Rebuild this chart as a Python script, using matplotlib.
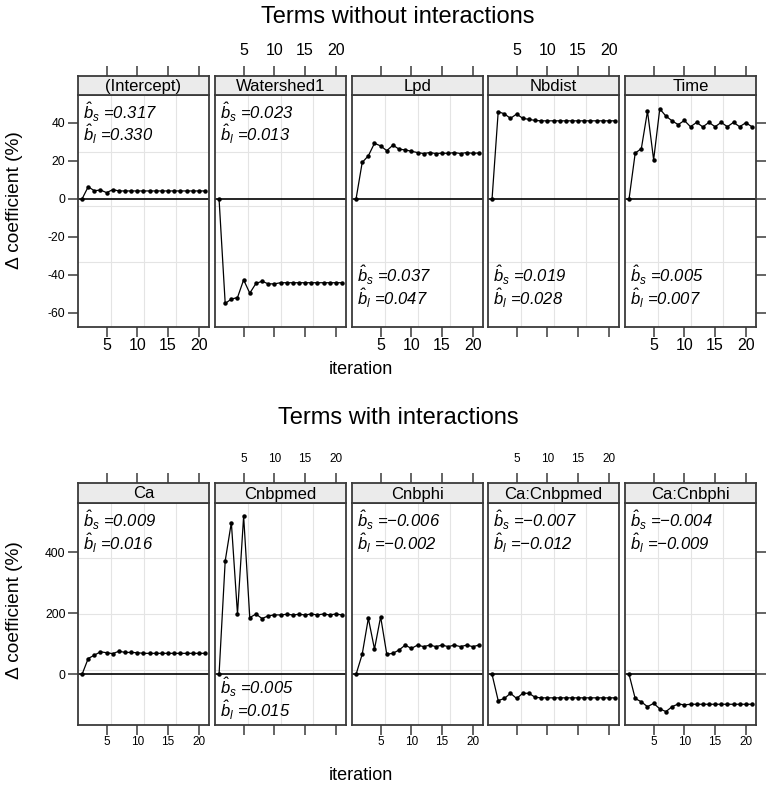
import numpy as np
import matplotlib.pyplot as plt

plt.rcParams['font.family'] = ['Liberation Sans', 'DejaVu Sans']
plt.rcParams['mathtext.fontset'] = 'custom'
plt.rcParams['mathtext.it'] = 'Liberation Sans:italic'
plt.rcParams['mathtext.rm'] = 'Liberation Sans:italic'
plt.rcParams['axes.unicode_minus'] = False

iteration = np.arange(1, 22)

# Terms without interactions
top_names = ["(Intercept)", "Watershed1", "Lpd", "Nbdist", "Time"]
intercept = [0, 6.4, 4.3, 4.7, 3.3, 4.9, 4.2, 4.2, 4.2, 4.2, 4.2, 4.2, 4.2, 4.2, 4.2, 4.2, 4.2, 4.2, 4.2, 4.2, 4.2]
watershed1 = [0, -55.0, -52.7, -51.9, -42.6, -49.6, -44.5, -43.3, -44.7, -44.7, -44.1, -44.1, -44.1, -44.1,
              -44.1, -44.1, -44.1, -44.1, -44.1, -44.1, -44.1]
lpd = [0, 19.2, 22.7, 29.3, 27.9, 25.4, 28.3, 26.2, 25.8, 25.1, 24.4, 23.9, 24.4, 23.9, 24.1, 24.0,
       24.4, 23.9, 24.4, 24.0, 24.2]
nbdist = [0, 45.9, 44.8, 42.4, 44.7, 42.4, 41.9, 41.3, 41.1, 41.1, 41.1, 41.1, 41.1, 41.1, 41.1, 41.1,
          41.1, 41.1, 41.1, 41.1, 41.1]
time_ = [0, 24.1, 26.5, 46.2, 20.6, 47.4, 43.6, 41.1, 39.1, 41.3, 38.0, 40.3, 37.9, 40.3, 38.0, 40.3,
         38.0, 40.3, 38.0, 40.1, 38.0]
top_bs = ["0.317", "0.023", "0.037", "0.019", "0.005"]
top_bl = ["0.330", "0.013", "0.047", "0.028", "0.007"]
top_yticks = [-60, -40, -20, 0, 20, 40]

# Terms with interactions
bottom_names = ["Ca", "Cnbpmed", "Cnbphi", "Ca:Cnbpmed", "Ca:Cnbphi"]
ca = [0, 52, 63, 74, 71, 68, 76, 72, 72, 71, 69, 69, 69, 69, 69, 69, 69, 69, 69, 69, 69]
cnbpmed = [0, 372, 498, 198, 519, 186, 198, 183, 192, 195, 195, 197, 195, 197, 195, 198, 195, 198,
           195, 198, 195]
cnbphi = [0, 66, 184, 83, 189, 66, 69, 80, 96, 85, 96, 91, 96, 91, 96, 91, 96, 91, 96, 91, 96]
ca_cnbpmed = [0, -86, -79, -62, -79, -62, -62, -75, -77, -77, -77, -77, -77, -77, -77, -77, -77, -77,
              -77, -77, -77]
ca_cnbphi = [0, -79, -90, -106, -95, -113, -122, -106, -97, -100, -98, -98, -98, -98, -98, -98, -98,
             -98, -98, -98, -98]
bottom_bs = ["0.009", "0.005", "\u22120.006", "\u22120.007", "\u22120.004"]
bottom_bl = ["0.016", "0.015", "\u22120.002", "\u22120.012", "\u22120.009"]
bottom_yticks = [0, 200, 400]

W, H = 768, 788
EDGE = "#3a3a3a"
GRID = "#e4e4e4"
panel_left = [78, 215, 352, 488, 625]
panel_w = 131


def draw_row(names, series, bs, bl, where, yticks, ylim, strip_top, strip_h, bot_px,
             xlabsize, text_y, hgrid):
    panel_top = strip_top + strip_h
    for i, (name, vals) in enumerate(zip(names, series)):
        ax = fig.add_axes([panel_left[i] / W, 1 - bot_px / H, panel_w / W, (bot_px - panel_top) / H])
        st = fig.add_axes([panel_left[i] / W, 1 - panel_top / H, panel_w / W, strip_h / H])
        for a in (ax, st):
            for s in a.spines.values():
                s.set_color(EDGE)
                s.set_linewidth(1.3)
        # grid
        for f in (0.25, 0.5, 0.75):
            ax.plot([f, f], [0, 1], transform=ax.transAxes, color=GRID, lw=0.8, zorder=0)
        for f in hgrid:
            ax.plot([0, 1], [f, f], transform=ax.transAxes, color=GRID, lw=0.8, zorder=0)
        ax.axhline(0, color="black", lw=1.2, zorder=2)
        ax.plot(iteration, vals, color="black", lw=0.9, marker="o", ms=2.2, zorder=3)
        ax.set_xlim(0.34, 21.66)
        ax.set_ylim(*ylim)
        ax.set_xticks([5, 10, 15, 20])
        ax.set_yticks(yticks)
        ax.tick_params(axis="x", length=7, width=1.1, color=EDGE, pad=1,
                       labelsize=xlabsize, labelbottom=(i % 2 == 0))
        ax.tick_params(axis="y", length=7, width=1.1, color=EDGE, pad=2, labelsize=8.7,
                       left=(i == 0), labelleft=(i == 0), right=(i == 4), labelright=False)

        st.set_facecolor("#ebebeb")
        st.set_xlim(0.34, 21.66)
        st.set_xticks([5, 10, 15, 20])
        st.set_yticks([])
        st.tick_params(axis="x", length=7, width=1.1, color=EDGE, pad=6, labelsize=xlabsize,
                       top=True, labeltop=(i % 2 == 1), bottom=False, labelbottom=False)
        st.text(0.5, 0.45, name, transform=st.transAxes, ha="center", va="center", fontsize=12)

        ys = text_y[where[i]]
        ax.text(0.038, ys[0], r"$\hat{b}_s$ =" + bs[i], transform=ax.transAxes,
                fontsize=12, style="italic", va="baseline", ha="left")
        ax.text(0.038, ys[1], r"$\hat{b}_l$ =" + bl[i], transform=ax.transAxes,
                fontsize=12, style="italic", va="baseline", ha="left")


fig = plt.figure(figsize=(W / 100, H / 100), dpi=100)

draw_row(top_names, [intercept, watershed1, lpd, nbdist, time_], top_bs, top_bl,
         ["up", "up", "low", "low", "low"], top_yticks, (-67.4, 54.7), 76, 19, 327, 11.5,
         {"up": (0.897, 0.799), "low": (0.191, 0.092)}, (0.756, 0.52, 0.282))
draw_row(bottom_names, [ca, cnbpmed, cnbphi, ca_cnbpmed, ca_cnbphi], bottom_bs, bottom_bl,
         ["up", "low", "up", "up", "up"], bottom_yticks, (-166, 562), 483, 20, 725, 8.5,
         {"up": (0.891, 0.785), "low": (0.14, 0.035)}, (0.751, 0.5, 0.25))

fig.text(398 / W, 1 - 17 / H, "Terms without interactions", ha="center", va="center", fontsize=17)
fig.text(398 / W, 1 - 418 / H, "Terms with interactions", ha="center", va="center", fontsize=17)
fig.text(361 / W, 1 - 370 / H, "iteration", ha="center", va="center", fontsize=13)
fig.text(361 / W, 1 - 775 / H, "iteration", ha="center", va="center", fontsize=13)
fig.text(15 / W, 1 - 200 / H, "\u0394 coefficient (%)", rotation=90, ha="center", va="center", fontsize=13.8)
fig.text(15 / W, 1 - 610 / H, "\u0394 coefficient (%)", rotation=90, ha="center", va="center", fontsize=13.8)

fig.savefig("out.png", dpi=100)
